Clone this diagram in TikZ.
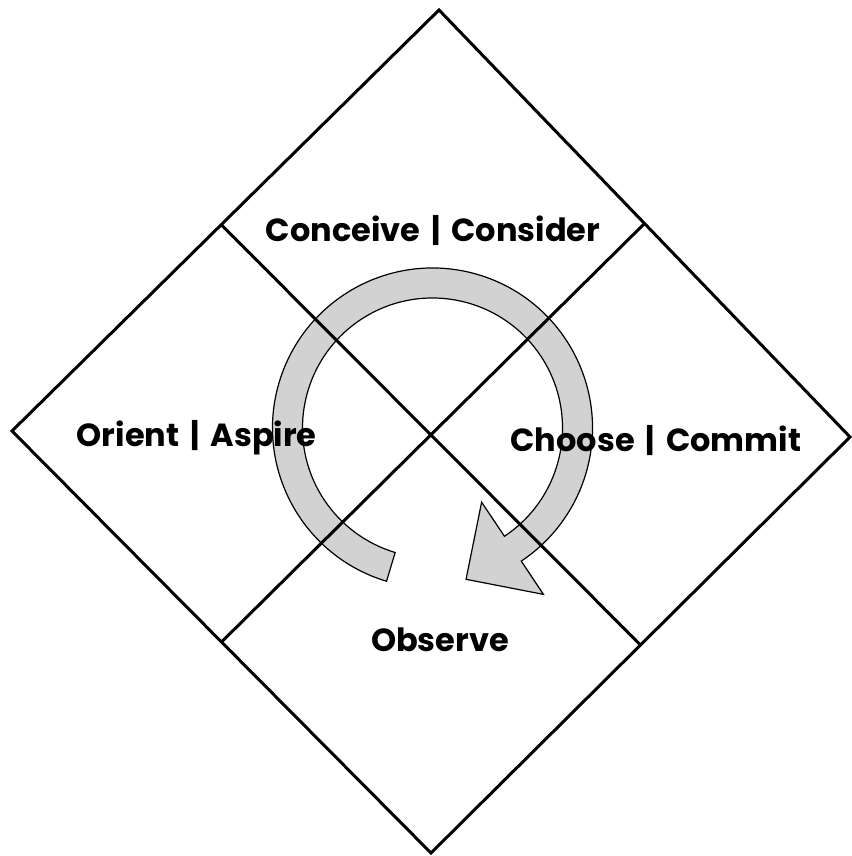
\documentclass[tikz,border=0pt]{standalone}
\usepackage{fontspec}
\setmainfont{Poppins}
\usetikzlibrary{calc}
\definecolor{bandgray}{RGB}{210,210,210}
\newcommand{\sepbar}{\hspace{11pt}|\hspace{11pt}}
\tikzset{
  frame/.style={line width=3pt, line join=miter},
  divider/.style={line width=3pt},
  cyclearrow/.style={fill=bandgray, draw=black, line width=1.2pt, line join=miter},
  label/.style={font=\bfseries\fontsize{32}{36}\selectfont, anchor=base, inner sep=0pt}
}
\begin{document}
\begin{tikzpicture}[x=1pt,y=1pt]
\useasboundingbox (0,0) rectangle (851,856);
\coordinate (T) at (439,846);
\coordinate (L) at (12,425);
\coordinate (B) at (431,3);
\coordinate (R) at (850,419);
\coordinate (C) at (432.5,428);
% cycle arrow
\begin{scope}[shift={(C)}]
\draw[cyclearrow] (253.3:160) arc[start angle=253.3, end angle=-56.3, radius=160]
  -- (-56.3:200) -- (-77.5:155) -- (-56.5:89) -- (-56.4:130)
  arc[start angle=-56.4, end angle=253.3, radius=130] -- cycle;
\end{scope}
% diamond
\draw[frame] (T) -- (R) -- (B) -- (L) -- cycle;
\coordinate (TL) at ($(T)!0.51!(L)$);
\coordinate (BR) at ($(B)!0.5!(R)$);
\coordinate (LB) at ($(L)!0.5!(B)$);
\coordinate (TR) at ($(T)!0.5!(R)$);
\draw[divider] (TL) -- (BR);
\draw[divider] (LB) -- (TR);
% labels
\node[label] (conceive) at (433,614.3) {Conceive\sepbar Consider};
\node[label] (orient) at (196.7,409.3) {Orient\sepbar Aspire};
\node[label] (choose) at (655.8,404.3) {Choose\sepbar Commit};
\node[label] (observe) at (440,204.3) {Observe};
\end{tikzpicture}
\end{document}
